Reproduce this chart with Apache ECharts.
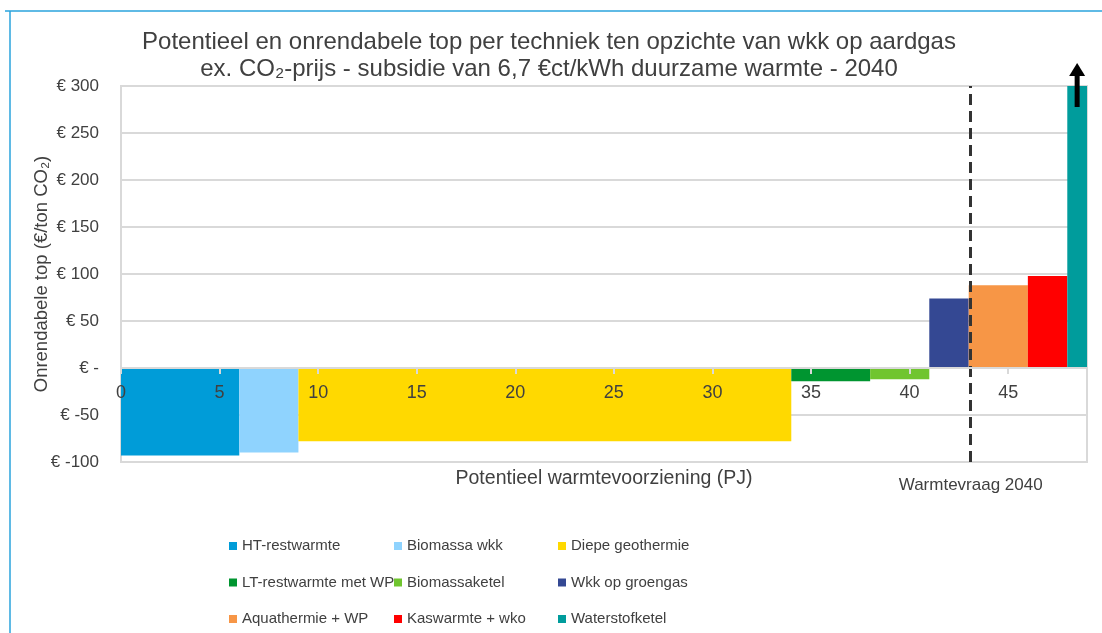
<!DOCTYPE html>
<html>
<head>
<meta charset="utf-8">
<script src="https://cdn.jsdelivr.net/npm/echarts@6/dist/echarts.min.js"></script>
<style>
  html, body { margin: 0; padding: 0; background: #fff; }
  #chart { width: 1102px; height: 633px; }
</style>
</head>
<body>
<div id="chart"></div>
<script>
// technieken (volgorde op de x-as)
const techNames = ['HT-restwarmte', 'Biomassa wkk', 'Diepe geothermie', 'LT-restwarmte met WP', 'Biomassaketel',
  'Wkk op groengas', 'Aquathermie + WP', 'Kaswarmte + wko', 'Waterstofketel']
// potentieel in PJ: begin en eind van elk blok
const startPJ = [0, 6, 9, 34, 38, 41, 43, 46, 48]
const endPJ = [6, 9, 34, 38, 41, 43, 46, 48, 49]
// onrendabele top (€/ton CO2)
const topValues = [-93, -90, -78, -14, -12, 74, 88, 98, 300]
const barColors = ['#009cd8', '#8fd3fe', '#ffd900', '#009530', '#70c52f', '#344893', '#f79646', '#ff0000', '#009c9c']
const demand2040 = 43.1
const yTicks = { min: -100, max: 300, step: 50 }
const xTicks = { min: 0, max: 49, step: 5 }

const textColor = '#404040'
const gridColor = '#d9d9d9'
const fontFamily = 'Liberation Sans, Arial, sans-serif'

const gridBox = { left: 121, right: 15, top: 86, bottom: 171 }
const gridHeight = 633 - gridBox.top - gridBox.bottom
// x-as op de nullijn leggen
const xAxisOffset = -gridHeight * (0 - yTicks.min) / (yTicks.max - yTicks.min)

let chart = echarts.init(document.getElementById('chart'))

// blok met variabele breedte
function renderBlock(params, api) {
  let p0 = api.coord([api.value(0), 0])
  let p1 = api.coord([api.value(1), api.value(2)])
  let shape = echarts.graphic.clipRectByRect({
    x: p0[0],
    y: Math.min(p0[1], p1[1]),
    width: p1[0] - p0[0],
    height: Math.abs(p1[1] - p0[1])
  }, {
    x: params.coordSys.x,
    y: params.coordSys.y,
    width: params.coordSys.width,
    height: params.coordSys.height
  })
  return shape && { type: 'rect', shape: shape, style: api.style() }
}

// pijl bovenop de waterstofketel (waarde buiten de as)
function renderArrow(params, api) {
  let p = api.coord([api.value(0), api.value(1)])
  return {
    type: 'group',
    children: [
      { type: 'rect', shape: { x: p[0] - 2.5, y: p[1] - 12, width: 5, height: 33 }, style: { fill: '#000' } },
      { type: 'polygon', shape: { points: [[p[0] - 8, p[1] - 10], [p[0] + 8, p[1] - 10], [p[0], p[1] - 23]] }, style: { fill: '#000' } }
    ]
  }
}

let series = techNames.map((name, i) => ({
  name: name,
  type: 'custom',
  renderItem: renderBlock,
  itemStyle: { color: barColors[i] },
  encode: { x: [0, 1], y: 2 },
  data: [[startPJ[i], endPJ[i], topValues[i]]],
  z: 2
}))

// warmtevraag 2040 als verticale stippellijn
series.push({
  name: 'Warmtevraag 2040',
  type: 'line',
  data: [],
  silent: true,
  markLine: {
    symbol: 'none',
    silent: true,
    lineStyle: { color: '#333', width: 3, type: [11, 6] },
    label: {
      position: 'start',
      distance: 15,
      formatter: 'Warmtevraag 2040',
      color: textColor,
      fontSize: 17,
      fontFamily: fontFamily
    },
    data: [{ xAxis: demand2040 }]
  },
  z: 5
})

series.push({
  name: 'arrow',
  type: 'custom',
  renderItem: renderArrow,
  data: [[(startPJ[8] + endPJ[8]) / 2, yTicks.max]],
  silent: true,
  z: 6
})

function legendColumn(left, names) {
  return {
    orient: 'vertical',
    left: left,
    top: 538,
    height: 95,
    padding: 0,
    icon: 'rect',
    itemWidth: 8,
    itemHeight: 8,
    itemGap: 20.5,
    selectedMode: false,
    textStyle: { color: textColor, fontSize: 15, lineHeight: 16, fontFamily: fontFamily },
    data: names
  }
}

let option = {
  backgroundColor: '#fff',
  animation: false,
  textStyle: { fontFamily: fontFamily },
  title: {
    text: 'Potentieel en onrendabele top per techniek ten opzichte van wkk op aardgas\nex. CO₂-prijs - subsidie van 6,7 €ct/kWh duurzame warmte - 2040',
    left: 544,
    top: 24,
    textAlign: 'center',
    textStyle: { color: textColor, fontSize: 24, fontWeight: 'normal', lineHeight: 27, fontFamily: fontFamily }
  },
  legend: [
    legendColumn(229, [techNames[0], techNames[3], techNames[6]]),
    legendColumn(394, [techNames[1], techNames[4], techNames[7]]),
    legendColumn(558, [techNames[2], techNames[5], techNames[8]])
  ],
  grid: {
    left: gridBox.left,
    right: gridBox.right,
    top: gridBox.top,
    bottom: gridBox.bottom,
    show: true,
    borderColor: gridColor,
    borderWidth: 2
  },
  xAxis: {
    type: 'value',
    min: xTicks.min,
    max: xTicks.max,
    interval: xTicks.step,
    z: 10,
    offset: xAxisOffset,
    name: 'Potentieel warmtevoorziening (PJ)',
    nameLocation: 'middle',
    nameGap: 101,
    nameMoveOverlap: false,
    nameTextStyle: { color: textColor, fontSize: 19.5, fontFamily: fontFamily },
    axisLine: { onZero: false, lineStyle: { color: gridColor, width: 2 } },
    axisTick: { show: true, length: 6, lineStyle: { color: gridColor, width: 2 } },
    axisLabel: { color: textColor, fontSize: 18, margin: 16, showMaxLabel: false, fontFamily: fontFamily },
    splitLine: { show: false }
  },
  yAxis: {
    type: 'value',
    min: yTicks.min,
    max: yTicks.max,
    interval: yTicks.step,
    name: 'Onrendabele top (€/ton CO₂)',
    nameLocation: 'middle',
    nameGap: 70,
    nameMoveOverlap: false,
    nameTextStyle: { color: textColor, fontSize: 18.5, fontFamily: fontFamily },
    axisLine: { show: true, onZero: false, lineStyle: { color: gridColor, width: 2 } },
    axisTick: { show: false },
    axisLabel: {
      color: textColor,
      fontSize: 17,
      margin: 22,
      fontFamily: fontFamily,
      formatter: v => v === 0 ? '€ -' : '€ ' + v
    },
    splitLine: { lineStyle: { color: gridColor, width: 2 } }
  },
  graphic: [
    // blauwe rand van het kader
    { type: 'line', shape: { x1: 5, y1: 11, x2: 1102, y2: 11 }, style: { stroke: '#2aa3dc', lineWidth: 1.5 } },
    { type: 'line', shape: { x1: 10, y1: 11, x2: 10, y2: 633 }, style: { stroke: '#2aa3dc', lineWidth: 1.5 } }
  ],
  series: series
}

chart.setOption(option)
</script>
</body>
</html>
